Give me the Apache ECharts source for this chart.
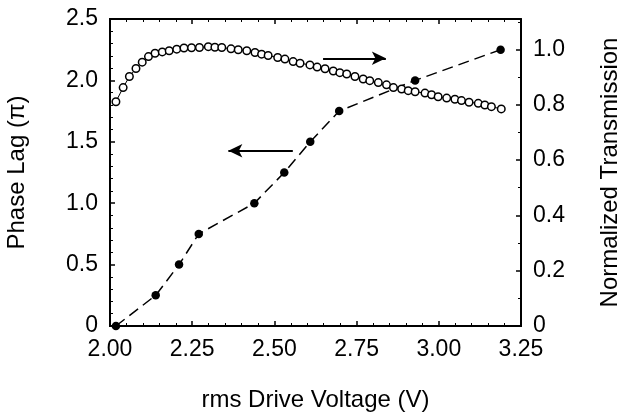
<!DOCTYPE html>
<html>
<head>
<meta charset="utf-8">
<script src="https://cdn.jsdelivr.net/npm/echarts@6/dist/echarts.min.js"></script>
<style>
  html, body { margin: 0; padding: 0; background: #fff; }
  #root { width: 620px; height: 413px; }
</style>
</head>
<body>
<div id="root"></div>
<script>
// phase lag (filled circles, dashed line, left axis)
var phaseVoltage = [2.018, 2.139, 2.21, 2.27, 2.439, 2.53, 2.609, 2.697, 2.928, 3.188];
var phaseLag = [0, 0.25, 0.5, 0.75, 1.0, 1.25, 1.5, 1.75, 2.0, 2.25];

// normalized transmission (open circles, right axis)
var transVoltage = [2.018, 2.040, 2.059, 2.079, 2.098, 2.117, 2.137, 2.159, 2.180, 2.203,
  2.225, 2.248, 2.272, 2.299, 2.319, 2.340, 2.368, 2.390, 2.416, 2.441,
  2.461, 2.481, 2.510, 2.532, 2.557, 2.578, 2.608, 2.630, 2.654, 2.679,
  2.699, 2.720, 2.745, 2.770, 2.790, 2.816, 2.841, 2.862, 2.887, 2.907,
  2.928, 2.958, 2.978, 2.998, 3.024, 3.049, 3.069, 3.092, 3.120, 3.140,
  3.160, 3.190];
var transmission = [0.811, 0.862, 0.902, 0.931, 0.954, 0.974, 0.986, 0.991, 0.995, 1.001,
  1.005, 1.006, 1.007, 1.010, 1.008, 1.007, 1.002, 0.999, 0.995, 0.989,
  0.983, 0.978, 0.971, 0.965, 0.956, 0.950, 0.944, 0.936, 0.930, 0.922,
  0.916, 0.911, 0.902, 0.893, 0.887, 0.880, 0.872, 0.862, 0.857, 0.851,
  0.847, 0.842, 0.836, 0.829, 0.824, 0.820, 0.815, 0.809, 0.805, 0.799,
  0.793, 0.785];

// annotation arrows: [x tail, x head, y]
var leftArrow = [2.556, 2.36, 1.427];
var rightArrow = [2.648, 2.839, 0.968];

var FONT = 'Liberation Sans';
var ink = '#000';

var phaseData = phaseVoltage.map(function (v, i) { return [v, phaseLag[i]]; });
var transData = transVoltage.map(function (v, i) { return [v, transmission[i]]; });

var chart = echarts.init(document.getElementById('root'));

function ticks() {
  return { show: true, inside: true, length: 5, lineStyle: { color: ink, width: 1.5 } };
}
function minor(n) {
  return { show: true, splitNumber: n, length: 3, lineStyle: { color: ink, width: 1 } };
}
var noTicks = { show: false };
var frameLine = { show: true, onZero: false, lineStyle: { color: ink, width: 2 } };

// tick-only axis that sits on top of a labelled one
function tickAxis(pos, min, max, interval, n) {
  return {
    type: 'value', min: min, max: max, interval: interval, position: pos,
    axisLine: frameLine, axisTick: ticks(), minorTick: minor(n),
    splitLine: { show: false }, axisLabel: { show: false }
  };
}

var option = {
  animation: false,
  backgroundColor: '#fff',
  textStyle: { fontFamily: FONT, color: ink },
  grid: { left: 110, right: 99, top: 19, bottom: 87, containLabel: false, outerBoundsMode: 'none' },
  xAxis: [
    {
      type: 'value', min: 2.0, max: 3.25, interval: 0.25, position: 'bottom',
      name: 'rms Drive Voltage (V)', nameLocation: 'middle', nameGap: 62,
      nameTextStyle: { fontSize: 24, color: ink, fontFamily: FONT },
      axisLine: frameLine,
      axisTick: noTicks,
      splitLine: { show: false },
      axisLabel: { fontSize: 23, color: ink, margin: 12, fontFamily: FONT,
        formatter: function (v) { return v.toFixed(2); } }
    },
    tickAxis('top', 2.0, 3.25, 0.25, 5),
    tickAxis('bottom', 2.0, 3.25, 0.25, 5)
  ],
  yAxis: [
    {
      type: 'value', min: 0, max: 2.5, interval: 0.5, position: 'left',
      name: 'Phase Lag (\u03c0)', nameLocation: 'middle', nameGap: 81,
      nameTextStyle: { fontSize: 24, color: ink, fontFamily: FONT },
      axisLine: frameLine,
      axisTick: noTicks,
      splitLine: { show: false },
      axisLabel: { fontSize: 23, color: ink, margin: 12, fontFamily: FONT,
        formatter: function (v) { return v === 0 ? '0' : v.toFixed(1); } }
    },
    {
      type: 'value', min: 0, max: 1.11, interval: 0.2, position: 'right',
      name: 'Normalized Transmission', nameLocation: 'middle', nameGap: 77,
      nameRotate: 90,
      nameTextStyle: { fontSize: 24, color: ink, fontFamily: FONT },
      axisLine: frameLine,
      axisTick: ticks(),
      minorTick: minor(2),
      splitLine: { show: false },
      axisLabel: { fontSize: 23, color: ink, margin: 12, fontFamily: FONT, showMaxLabel: false,
        formatter: function (v) { return v === 0 ? '0' : (v > 1.05 ? '' : v.toFixed(1)); } }
    },
    tickAxis('left', 0, 2.5, 0.5, 5)
  ],
  series: [
    {
      name: 'Normalized Transmission', type: 'line', xAxisIndex: 0, yAxisIndex: 1,
      data: transData,
      symbol: 'circle', symbolSize: 7.5, showAllSymbol: true,
      lineStyle: { color: ink, width: 1 },
      itemStyle: { color: '#fff', borderColor: ink, borderWidth: 1.5 },
      z: 3,
      markLine: {
        silent: true, symbol: ['none', 'arrow'], symbolSize: [10, 14],
        label: { show: false },
        lineStyle: { color: ink, width: 2, type: 'solid' },
        data: [[{ coord: [rightArrow[0], rightArrow[2]] }, { coord: [rightArrow[1], rightArrow[2]] }]]
      }
    },
    {
      name: 'Phase Lag', type: 'line', xAxisIndex: 0, yAxisIndex: 0,
      data: phaseData,
      symbol: 'circle', symbolSize: 8.5,
      lineStyle: { color: ink, width: 1.5, type: [11, 6] },
      itemStyle: { color: ink, borderColor: ink, borderWidth: 0 },
      z: 2,
      markLine: {
        silent: true, symbol: ['none', 'arrow'], symbolSize: [10, 14],
        label: { show: false },
        lineStyle: { color: ink, width: 2, type: 'solid' },
        data: [[{ coord: [leftArrow[0], leftArrow[2]] }, { coord: [leftArrow[1], leftArrow[2]] }]]
      }
    }
  ]
};

chart.setOption(option);
</script>
</body>
</html>
